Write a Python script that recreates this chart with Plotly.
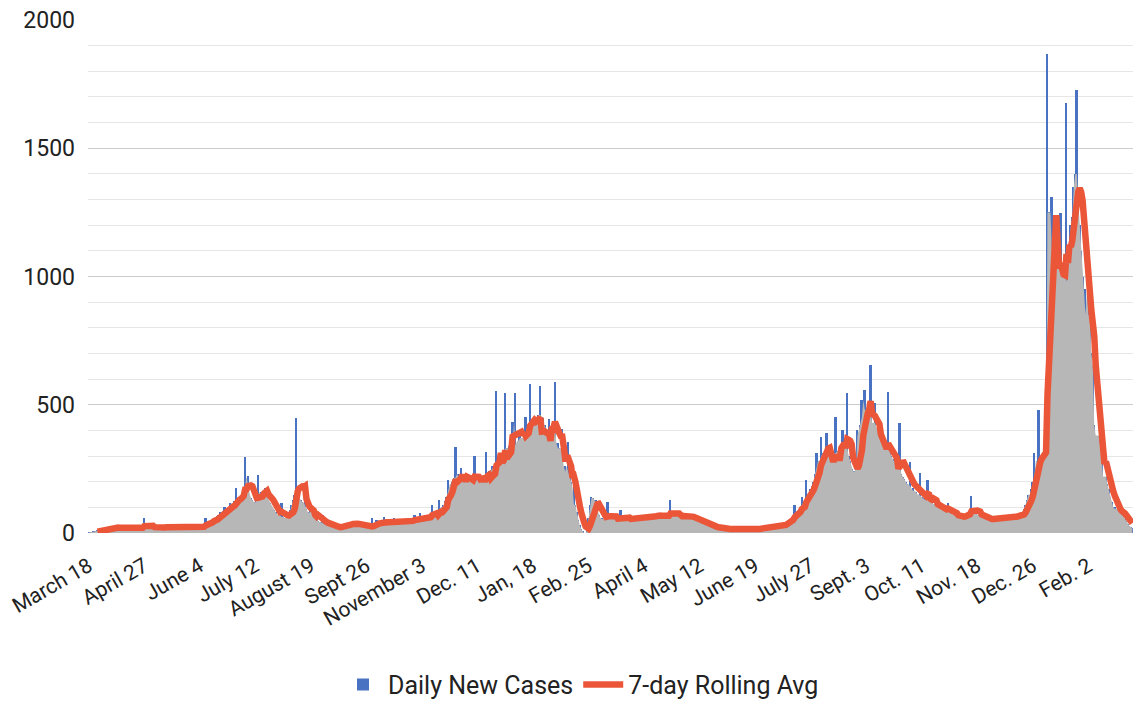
import pandas as pd
import plotly.graph_objects as go

# ---- tick labels (one every 38 days of data) ----
tick_labels = ["March 18", "April 27", "June 4", "July 12", "August 19", "Sept 26",
               "November 3", "Dec. 11", "Jan, 18", "Feb. 25", "April 4", "May 12",
               "June 19", "July 27", "Sept. 3", "Oct. 11", "Nov. 18", "Dec. 26", "Feb. 2"]

# ---- daily new cases, one list per labelled period ----
cases_mar18 = [1, 2, 3, 4, 6, 8, 10, 12, 9, 14, 15, 18, 20, 17, 22, 19, 21, 24, 18, 20,
               23, 16, 19, 22, 25, 17, 20, 18, 21, 24, 19, 16, 22, 20, 18, 23, 21, 26]
cases_apr27 = [58, 30, 24, 21, 18, 26, 22, 19, 23, 20, 25, 21, 17, 24, 22, 26, 20, 18, 23, 25,
               21, 19, 24, 27, 20, 22, 26, 23, 19, 21, 25, 28, 22, 20, 24, 26, 21, 23]
cases_jun4 = [26, 22, 25, 28, 58, 34, 38, 42, 45, 52, 60, 58, 66, 72, 80, 76, 84, 103, 88, 92,
              98, 117, 110, 118, 125, 175, 130, 128, 140, 150, 165, 298, 180, 222, 150, 135, 128, 70]
cases_jul12 = [120, 130, 226, 150, 160, 145, 155, 175, 140, 130, 118, 105, 95, 88, 80, 72, 68, 60, 117, 62,
               55, 58, 65, 60, 90, 110, 130, 150, 447, 150, 140, 130, 120, 110, 179, 95, 8, 80]
cases_aug19 = [90, 85, 75, 60, 52, 48, 42, 38, 70, 35, 30, 32, 28, 25, 22, 26, 20, 24, 22, 18,
               25, 28, 30, 26, 34, 38, 32, 40, 36, 42, 38, 34, 30, 28, 32, 26, 24, 22]
cases_sep26 = [18, 20, 16, 22, 58, 30, 28, 52, 34, 38, 36, 40, 64, 42, 38, 35, 40, 44, 38, 58,
               36, 42, 45, 40, 38, 44, 48, 42, 46, 50, 45, 48, 52, 70, 50, 55, 58, 77]
cases_nov3 = [55, 60, 58, 62, 65, 60, 70, 109, 72, 80, 78, 12, 129, 95, 100, 110, 125, 140, 207, 170,
              190, 200, 215, 337, 70, 230, 220, 253, 210, 205, 215, 200, 210, 205, 195, 215, 300, 205]
cases_dec11 = [200, 210, 141, 215, 220, 225, 317, 230, 240, 44, 260, 250, 270, 555, 280, 265, 300, 5, 310, 546,
               330, 320, 340, 350, 434, 330, 546, 340, 360, 380, 370, 350, 390, 453, 380, 400, 581, 410]
cases_jan18 = [420, 440, 410, 430, 460, 573, 31, 450, 420, 380, 400, 444, 390, 410, 420, 590, 232, 350, 330, 310,
               405, 148, 260, 240, 356, 220, 200, 90, 180, 110, 80, 50, 30, 15, 5, 0, 0, 10]
cases_feb25 = [60, 110, 141, 136, 120, 130, 90, 70, 55, 60, 55, 50, 58, 122, 60, 55, 52, 60, 56, 50,
               58, 62, 90, 55, 52, 58, 54, 60, 48, 56, 62, 58, 52, 60, 64, 58, 55, 62]
cases_apr4 = [60, 65, 58, 70, 62, 66, 72, 60, 68, 74, 65, 70, 62, 75, 68, 60, 72, 65, 129, 70,
              62, 68, 75, 60, 66, 70, 58, 64, 72, 66, 60, 68, 62, 55, 58, 52, 50, 45]
cases_may12 = [48, 42, 40, 36, 38, 32, 30, 28, 26, 24, 22, 20, 18, 20, 17, 16, 18, 15, 17, 14,
               16, 15, 13, 16, 14, 15, 12, 16, 14, 13, 15, 17, 14, 16, 15, 13, 17, 15]
cases_jun19 = [16, 18, 15, 17, 19, 16, 18, 20, 17, 19, 21, 18, 22, 20, 24, 22, 26, 28, 30, 34,
               38, 42, 46, 50, 55, 60, 66, 109, 75, 82, 88, 95, 141, 110, 120, 207, 140, 155]
cases_jul27 = [170, 185, 200, 230, 312, 260, 280, 374, 300, 310, 320, 390, 330, 300, 64, 290, 310, 453, 300, 320,
               310, 340, 401, 320, 330, 546, 300, 280, 250, 31, 240, 260, 401, 380, 420, 519, 450, 557]
cases_sep3 = [480, 460, 480, 655, 180, 430, 507, 400, 410, 390, 380, 97, 350, 340, 330, 551, 320, 300, 31, 290,
              280, 270, 260, 429, 230, 220, 210, 200, 190, 180, 278, 140, 175, 165, 160, 150, 145, 233]
cases_oct11 = [140, 78, 135, 130, 207, 125, 120, 115, 110, 112, 105, 100, 98, 95, 92, 88, 90, 85, 117, 80,
               75, 72, 70, 66, 62, 60, 58, 62, 66, 70, 74, 78, 80, 82, 144, 80, 78, 75]
cases_nov18 = [72, 70, 66, 62, 58, 55, 52, 55, 50, 54, 58, 60, 56, 62, 58, 64, 60, 66, 62, 58,
               64, 60, 66, 62, 68, 64, 60, 66, 70, 65, 72, 80, 95, 110, 130, 150, 150, 170]
cases_dec26 = [200, 312, 220, 280, 480, 260, 270, 290, 300, 320, 1866, 1250, 1100, 1311, 1050, 1000, 1100, 1050, 609, 1247,
               1050, 1000, 980, 1676, 804, 1100, 1200, 1233, 1350, 1400, 1727, 1300, 1200, 1100, 1000, 780, 950, 850]
cases_feb2 = [950, 850, 700, 650, 420, 156, 380, 380, 340, 300, 109, 220, 220, 190, 170, 140, 120, 80, 100, 95,
              90, 85, 75, 70, 65, 55, 45, 35, 28, 22, 18]

periods = [cases_mar18, cases_apr27, cases_jun4, cases_jul12, cases_aug19, cases_sep26,
           cases_nov3, cases_dec11, cases_jan18, cases_feb25, cases_apr4, cases_may12,
           cases_jun19, cases_jul27, cases_sep3, cases_oct11, cases_nov18, cases_dec26, cases_feb2]

daily = pd.Series([v for p in periods for v in p], dtype=float)
day = list(range(len(daily)))
tick_pos = [sum(len(p) for p in periods[:k]) for k in range(len(periods))]

rolling7 = daily.rolling(7).mean()
envelope = daily.rolling(3, center=True, min_periods=1).median()

BLUE = "#4a72c2"
RED = "#ea5637"
GRAY = "#b7b7b7"
FONT = "Roboto, Arial, sans-serif"

fig = go.Figure()
fig.add_trace(go.Bar(x=day, y=daily, name="Daily New Cases", width=1.3,
                     marker=dict(color=BLUE, line=dict(width=0))))
fig.add_trace(go.Scatter(x=day, y=envelope, mode="lines", fill="tozeroy",
                         fillcolor=GRAY, line=dict(width=0, color=GRAY),
                         showlegend=False, hoverinfo="skip"))
fig.add_trace(go.Scatter(x=day, y=rolling7, mode="lines", name="7-day Rolling Avg",
                         line=dict(color=RED, width=6.5)))

# the page body adds an 8px offset, so margins are set to land the plot at the reference spot
fig.update_layout(
    width=1146, height=708,
    margin=dict(l=80, r=21, t=12, b=183, autoexpand=False),
    paper_bgcolor="white", plot_bgcolor="white",
    barmode="overlay", bargap=0,
    font=dict(family=FONT, color="#222222"),
    legend=dict(orientation="h", xref="container", x=0.5, xanchor="center",
                y=-0.296, yanchor="middle", font=dict(size=25), itemwidth=40),
)
fig.update_xaxes(range=[-0.5, len(daily) - 0.5], tickvals=tick_pos, ticktext=tick_labels,
                 tickangle=-30, tickfont=dict(size=21), showgrid=False, zeroline=False,
                 showline=False, ticks="", automargin=False, ticklabeloverflow="allow",
                 ticklabelstandoff=16)
fig.update_yaxes(range=[0, 2000], tickvals=[0, 500, 1000, 1500, 2000],
                 tickfont=dict(size=23), gridcolor="#cccccc", gridwidth=1,
                 minor=dict(dtick=100, showgrid=True, gridcolor="#e6e6e6", gridwidth=1),
                 zeroline=False, showline=False, ticks="", ticklabelstandoff=12,
                 automargin=False, ticklabeloverflow="allow")

fig.write_html("out.html")
